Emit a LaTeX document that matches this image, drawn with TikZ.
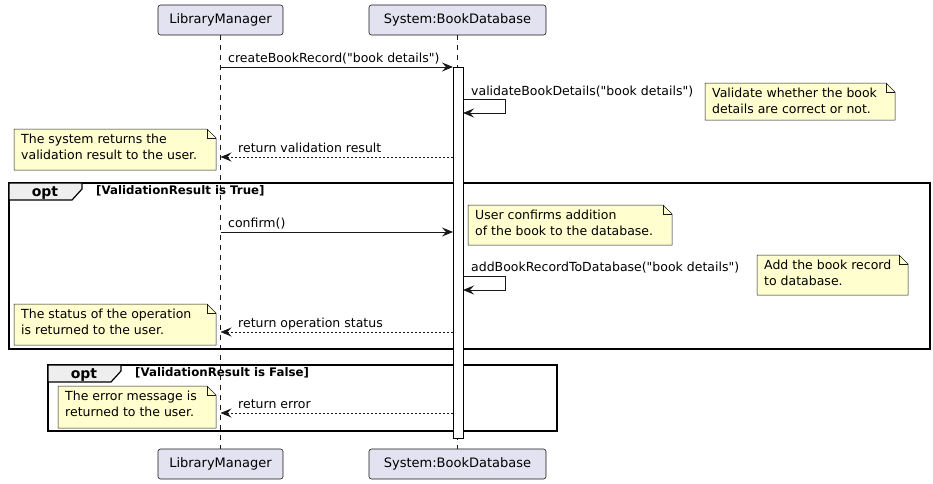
\documentclass[tikz,border=0pt]{standalone}
\usepackage{fontspec}
\setmainfont{DejaVu Sans}[Ligatures=TeXOff]
\usetikzlibrary{arrows.meta}
\definecolor{partfill}{HTML}{E2E2F0}
\definecolor{notefill}{HTML}{FEFECE}
\definecolor{linecol}{HTML}{181818}
\definecolor{tabfill}{HTML}{EEEEEE}
\tikzset{
  part/.style={draw=linecol, line width=0.6pt, fill=partfill, rounded corners=2.5pt, minimum width=#1, minimum height=30pt, inner sep=0pt, font=\fontsize{13}{15}\selectfont},
  lifeline/.style={draw=linecol, line width=0.5pt, dash pattern=on 5pt off 5pt},
  msg/.style={draw=linecol, line width=0.9pt, -{Stealth[length=11pt,width=9pt,inset=4pt]}},
  ret/.style={msg, dash pattern=on 2pt off 2pt},
  msgtxt/.style={anchor=base west, inner sep=0pt, font=\fontsize{12.5}{15}\selectfont},
  notetxt/.style={anchor=north west, inner sep=0pt, align=left, font=\fontsize{12.5}{15.5}\selectfont},
  notebox/.style={draw=linecol, line width=0.5pt, fill=notefill},
  frame/.style={draw=black, line width=1.5pt},
  optlbl/.style={anchor=base, inner sep=0pt, font=\bfseries\fontsize{14}{16}\selectfont},
  condlbl/.style={anchor=base west, inner sep=0pt, font=\bfseries\fontsize{11.8}{14}\selectfont},
  act/.style={draw=black, line width=0.9pt, fill=white}
}
\newcommand\mynote[6]{%
  \path[notebox] (#2,#3) -- (#4-9,#3) -- (#4,#3+9) -- (#4,#5) -- (#2,#5) -- cycle;
  \draw[linecol, line width=0.5pt] (#4-9,#3) -- (#4-9,#3+9) -- (#4,#3+9);
  \node[notetxt] (#1) at (#2+7,#3+5) {#6};
}
\newcommand\myframe[6]{%
  \draw[frame] (#2,#3) rectangle (#4,#5);
  \path[draw=black, line width=1.2pt, fill=tabfill] (#2,#3) -- (#2+73,#3) -- (#2+73,#3+6) -- (#2+63,#3+17) -- (#2,#3+17) -- cycle;
  \node[optlbl] (#1) at (#2+36,#3+13.5) {opt};
  \node[condlbl] (#1c) at (#2+87,#3+11.5) {#6};
}
\begin{document}
\begin{tikzpicture}[x=1pt,y=-1pt]
\useasboundingbox (0,0) rectangle (933,483);
% participants
\node[part=125pt] (lmT) at (220.5,20) {LibraryManager};
\node[part=177pt] (dbT) at (457.5,20) {System:BookDatabase};
\node[part=125pt] (lmB) at (220.5,464) {LibraryManager};
\node[part=177pt] (dbB) at (457.5,464) {System:BookDatabase};
\draw[lifeline] (lmT.south) -- (lmB.north);
\draw[lifeline] (dbT.south) -- (dbB.north);
% frames
\myframe{opt1}{9}{183}{930}{349}{[ValidationResult is True]}
\myframe{opt2}{48}{365}{557}{431}{[ValidationResult is False]}
% activation
\draw[act] (453,67) rectangle (463,438);
% coordinates
\coordinate (m1s) at (220.5,67); \coordinate (m1e) at (453,67);
\coordinate (s1a) at (463,99); \coordinate (s1b) at (463,113);
\coordinate (m3s) at (453,157); \coordinate (m3e) at (220.5,157);
\coordinate (m4s) at (220.5,232); \coordinate (m4e) at (453,232);
\coordinate (s2a) at (463,276); \coordinate (s2b) at (463,290);
\coordinate (m6s) at (453,332); \coordinate (m6e) at (220.5,332);
\coordinate (m7s) at (453,413); \coordinate (m7e) at (220.5,413);
% messages
\draw[msg] (m1s) -- (m1e);
\node[msgtxt] (t1) at (228,62) {createBookRecord("book details")};
\draw[msg] (s1a) -- ++(42,0) |- (s1b);
\node[msgtxt] (t2) at (471,95) {validateBookDetails("book details")};
\draw[ret] (m3s) -- (m3e);
\node[msgtxt] (t3) at (238,152) {return validation result};
\draw[msg] (m4s) -- (m4e);
\node[msgtxt] (t4) at (228,227) {confirm()};
\draw[msg] (s2a) -- ++(42,0) |- (s2b);
\node[msgtxt] (t5) at (471,271) {addBookRecordToDatabase("book details")};
\draw[ret] (m6s) -- (m6e);
\node[msgtxt] (t6) at (238,327) {return operation status};
\draw[ret] (m7s) -- (m7e);
\node[msgtxt] (t7) at (238,408) {return error};
% notes
\mynote{n1}{705}{83}{895}{120}{Validate whether the book\\details are correct or not.}
\mynote{n2}{14}{129}{216}{170}{The system returns the\\validation result to the user.}
\mynote{n3}{468}{205}{672}{245}{User confirms addition\\of the book to the database.}
\mynote{n4}{757}{255}{908}{295}{Add the book record\\to database.}
\mynote{n5}{14}{304}{216}{345}{The status of the operation\\is returned to the user.}
\mynote{n6}{58}{386}{216}{428}{The error message is\\returned to the user.}
\end{tikzpicture}
\end{document}
